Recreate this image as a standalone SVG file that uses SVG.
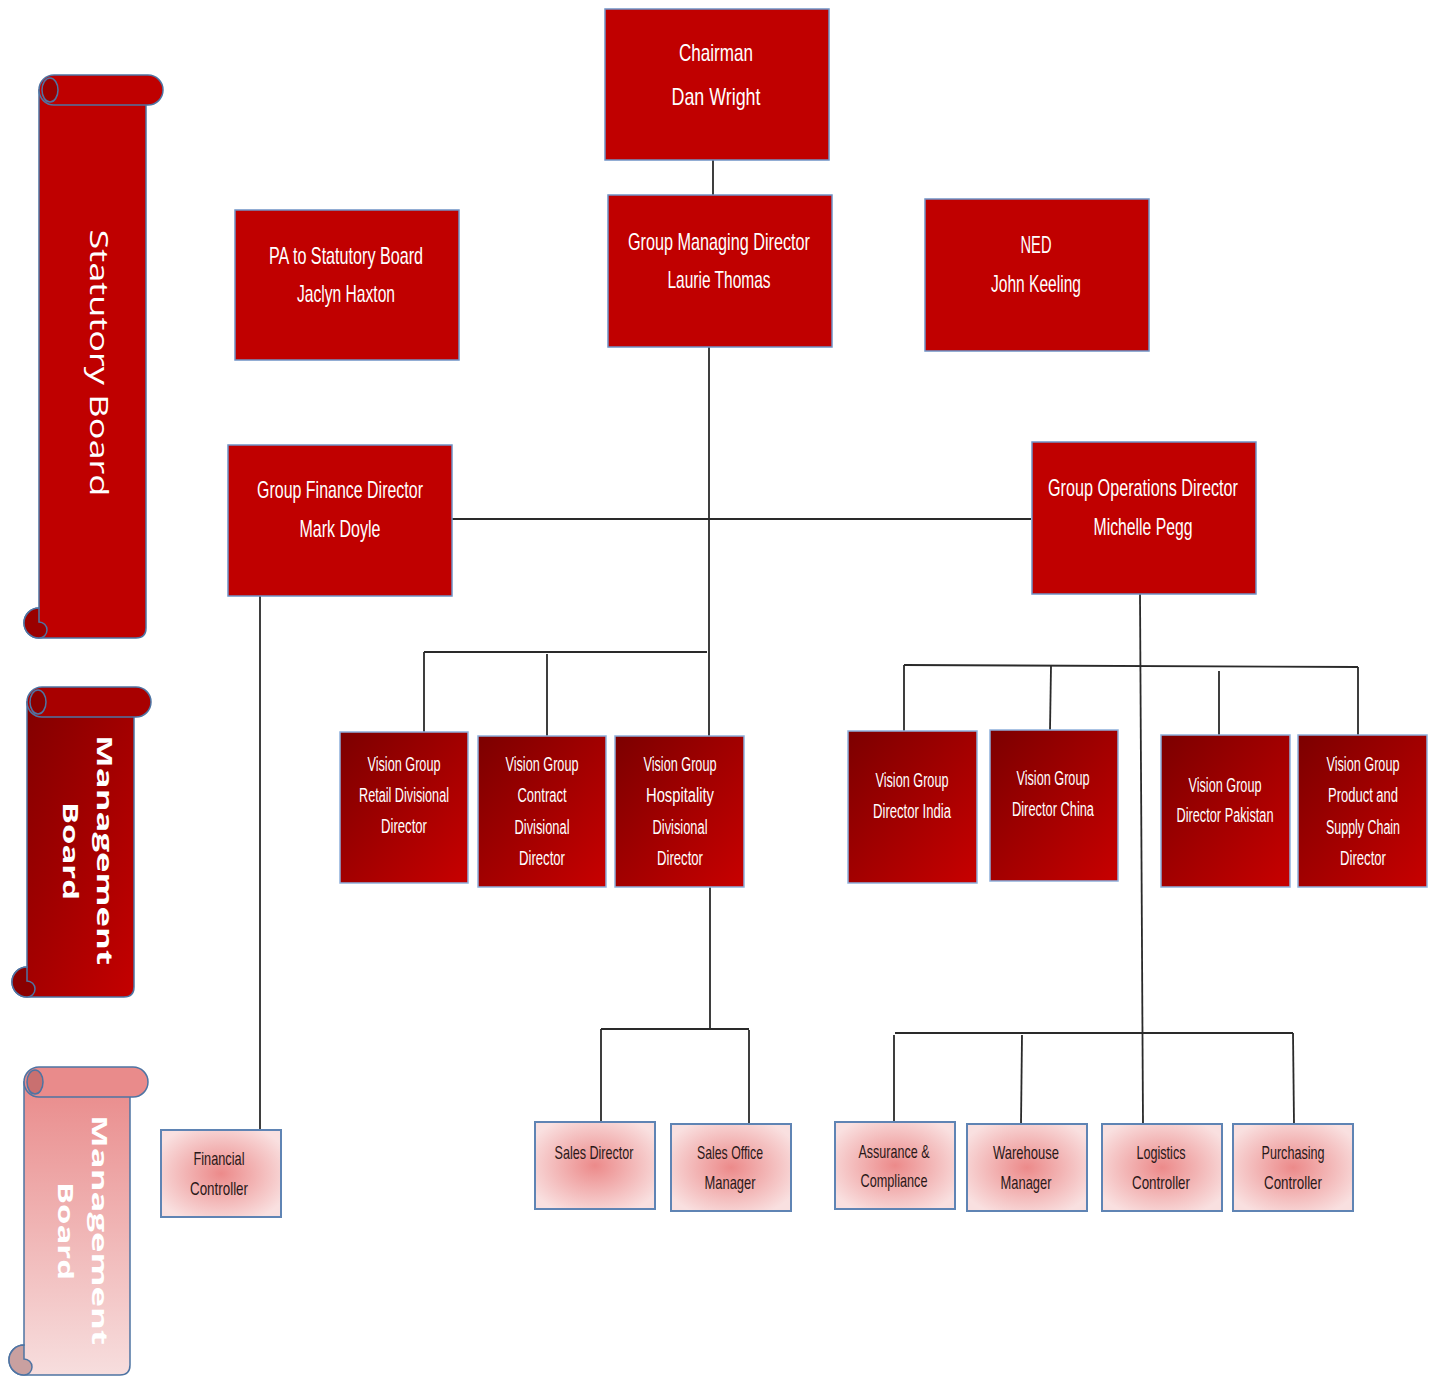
<svg xmlns="http://www.w3.org/2000/svg" width="1436" height="1376" viewBox="0 0 1436 1376">
<defs>
<linearGradient id="gVision" x1="0" y1="0" x2="1" y2="1">
<stop offset="0" stop-color="#7c0000"/>
<stop offset="1" stop-color="#c80000"/>
</linearGradient>
<linearGradient id="gMgmt" x1="0" y1="0" x2="1" y2="1">
<stop offset="0" stop-color="#7e0000"/>
<stop offset="1" stop-color="#c40000"/>
</linearGradient>
<linearGradient id="gPink" x1="0" y1="0" x2="0" y2="1">
<stop offset="0" stop-color="#e98b8b"/>
<stop offset="1" stop-color="#f7dede"/>
</linearGradient>
<radialGradient id="gLow" cx="0.5" cy="0.5" r="0.6">
<stop offset="0" stop-color="#ec8a8a"/>
<stop offset="1" stop-color="#f9e0e0"/>
</radialGradient>
</defs>
<style>
.red{fill:#c00000;stroke:#6f93c6;stroke-width:1.5}
.vis{fill:url(#gVision);stroke:#8eb0dc;stroke-width:1.5}
.low{fill:url(#gLow);stroke:#5f84b4;stroke-width:2}
.t{font-family:"Liberation Sans",Arial,sans-serif;text-anchor:middle;fill:#ffffff}
.big{font-size:24px}
.mid{font-size:20px}
.sm{font-size:19px;fill:#2a1818}
.conn{stroke:#2a2a2a;stroke-width:1.8;fill:none}
.scr{stroke:#4e74a3;stroke-width:1.5}
.st{font-family:"Open Sans","DejaVu Sans",sans-serif;fill:#ffffff;text-anchor:middle}
</style>

<g id="connectors">
<path class="conn" d="M713,160 V195"/>
<path class="conn" d="M709,347 V736"/>
<path class="conn" d="M452,519 H1031"/>
<path class="conn" d="M260,596 V1130"/>
<path class="conn" d="M424,652 H707"/>
<path class="conn" d="M424,652 V732"/>
<path class="conn" d="M547,654 V736"/>
<path class="conn" d="M710,887 V1030"/>
<path class="conn" d="M601,1029 H749"/>
<path class="conn" d="M601,1029 V1122"/>
<path class="conn" d="M749,1030 V1124"/>
<path class="conn" d="M1140,594 L1143,1124"/>
<path class="conn" d="M904,665 L1358,667"/>
<path class="conn" d="M904,665 V731"/>
<path class="conn" d="M1051,666 L1050,730"/>
<path class="conn" d="M1219,671 V735"/>
<path class="conn" d="M1358,667 V735"/>
<path class="conn" d="M895,1033 H1293"/>
<path class="conn" d="M894,1035 V1122"/>
<path class="conn" d="M1022,1035 L1021,1124"/>
<path class="conn" d="M1293,1033 L1294,1124"/>
</g>

<g id="scroll-statutory">
<path class="scr" fill="#bf0000" d="M39,90 H146 V628 Q146,638 136,638 H39 A15,15 0 0 1 39,608 Z"/>
<rect class="scr" fill="#bf0000" x="39" y="75" width="124" height="30" rx="15"/>
<ellipse class="scr" fill="#9a0000" cx="50" cy="90" rx="8" ry="12"/>
<path class="scr" fill="#9a0000" d="M39,608 A15,15 0 0 0 39,638 A8,8 0 0 0 39,622 Z"/>
<text class="st" font-size="25" transform="translate(90,363) rotate(90)" textLength="267" lengthAdjust="spacingAndGlyphs">Statutory Board</text>
</g>

<g id="scroll-management">
<path class="scr" fill="url(#gMgmt)" d="M27,702 H134 V987 Q134,997 124,997 H27 A15,15 0 0 1 27,967 Z"/>
<rect class="scr" fill="#a80000" x="27" y="687" width="124" height="30" rx="15"/>
<ellipse class="scr" fill="#8a0000" cx="38" cy="702" rx="8" ry="12"/>
<path class="scr" fill="#8a0000" d="M27,967 A15,15 0 0 0 27,997 A8,8 0 0 0 27,981 Z"/>
<text class="st" font-size="22" font-weight="bold" transform="translate(97,850) rotate(90)" textLength="230" lengthAdjust="spacingAndGlyphs">Management</text>
<text class="st" font-size="22" font-weight="bold" transform="translate(63,851) rotate(90)" textLength="98" lengthAdjust="spacingAndGlyphs">Board</text>
</g>

<g id="scroll-management-lower">
<path class="scr" fill="url(#gPink)" d="M24,1082 H130 V1365 Q130,1375 120,1375 H24 A15,15 0 0 1 24,1345 Z"/>
<rect class="scr" fill="#e98b8b" x="24" y="1067" width="124" height="30" rx="15"/>
<ellipse class="scr" fill="#c97070" cx="35" cy="1082" rx="8" ry="12"/>
<path class="scr" fill="#c9a0a0" d="M24,1345 A15,15 0 0 0 24,1375 A8,8 0 0 0 24,1359 Z"/>
<text class="st" font-size="22" font-weight="bold" transform="translate(92,1230) rotate(90)" textLength="230" lengthAdjust="spacingAndGlyphs">Management</text>
<text class="st" font-size="22" font-weight="bold" transform="translate(58,1231) rotate(90)" textLength="98" lengthAdjust="spacingAndGlyphs">Board</text>
</g>

<g id="chairman">
<rect class="red" x="605" y="9" width="224" height="151"/>
<text class="t big" x="716" y="60.5" textLength="74" lengthAdjust="spacingAndGlyphs">Chairman</text>
<text class="t big" x="716" y="104.5" textLength="89" lengthAdjust="spacingAndGlyphs">Dan Wright</text>
</g>
<g id="gmd">
<rect class="red" x="608" y="195" width="224" height="152"/>
<text class="t big" x="719" y="250" textLength="182" lengthAdjust="spacingAndGlyphs">Group Managing Director</text>
<text class="t big" x="719" y="288" textLength="103" lengthAdjust="spacingAndGlyphs">Laurie Thomas</text>
</g>
<g id="pa">
<rect class="red" x="235" y="210" width="224" height="150"/>
<text class="t big" x="346" y="264" textLength="154" lengthAdjust="spacingAndGlyphs">PA to Statutory Board</text>
<text class="t big" x="346" y="302" textLength="98" lengthAdjust="spacingAndGlyphs">Jaclyn Haxton</text>
</g>
<g id="ned">
<rect class="red" x="925" y="199" width="224" height="152"/>
<text class="t big" x="1036" y="253" textLength="31" lengthAdjust="spacingAndGlyphs">NED</text>
<text class="t big" x="1036" y="292" textLength="90" lengthAdjust="spacingAndGlyphs">John Keeling</text>
</g>
<g id="gfd">
<rect class="red" x="228" y="445" width="224" height="151"/>
<text class="t big" x="340" y="498" textLength="166" lengthAdjust="spacingAndGlyphs">Group Finance Director</text>
<text class="t big" x="340" y="537" textLength="81" lengthAdjust="spacingAndGlyphs">Mark Doyle</text>
</g>
<g id="god">
<rect class="red" x="1032" y="442" width="224" height="152"/>
<text class="t big" x="1143" y="496" textLength="190" lengthAdjust="spacingAndGlyphs">Group Operations Director</text>
<text class="t big" x="1143" y="535" textLength="99" lengthAdjust="spacingAndGlyphs">Michelle Pegg</text>
</g>

<g id="retail">
<rect class="vis" x="340" y="732" width="128" height="151"/>
<text class="t mid" x="404" y="771" textLength="73" lengthAdjust="spacingAndGlyphs">Vision Group</text>
<text class="t mid" x="404" y="802" textLength="90" lengthAdjust="spacingAndGlyphs">Retail Divisional</text>
<text class="t mid" x="404" y="833" textLength="46" lengthAdjust="spacingAndGlyphs">Director</text>
</g>
<g id="contract">
<rect class="vis" x="478" y="736" width="128" height="151"/>
<text class="t mid" x="542" y="771" textLength="73" lengthAdjust="spacingAndGlyphs">Vision Group</text>
<text class="t mid" x="542" y="802" textLength="49" lengthAdjust="spacingAndGlyphs">Contract</text>
<text class="t mid" x="542" y="834" textLength="55" lengthAdjust="spacingAndGlyphs">Divisional</text>
<text class="t mid" x="542" y="865" textLength="46" lengthAdjust="spacingAndGlyphs">Director</text>
</g>
<g id="hospitality">
<rect class="vis" x="615" y="736" width="129" height="151"/>
<text class="t mid" x="680" y="771" textLength="73" lengthAdjust="spacingAndGlyphs">Vision Group</text>
<text class="t mid" x="680" y="802" textLength="68" lengthAdjust="spacingAndGlyphs">Hospitality</text>
<text class="t mid" x="680" y="834" textLength="55" lengthAdjust="spacingAndGlyphs">Divisional</text>
<text class="t mid" x="680" y="865" textLength="46" lengthAdjust="spacingAndGlyphs">Director</text>
</g>
<g id="india">
<rect class="vis" x="848" y="731" width="129" height="152"/>
<text class="t mid" x="912" y="787" textLength="73" lengthAdjust="spacingAndGlyphs">Vision Group</text>
<text class="t mid" x="912" y="818" textLength="78" lengthAdjust="spacingAndGlyphs">Director India</text>
</g>
<g id="china">
<rect class="vis" x="990" y="730" width="128" height="151"/>
<text class="t mid" x="1053" y="785" textLength="73" lengthAdjust="spacingAndGlyphs">Vision Group</text>
<text class="t mid" x="1053" y="816" textLength="82" lengthAdjust="spacingAndGlyphs">Director China</text>
</g>
<g id="pakistan">
<rect class="vis" x="1161" y="735" width="129" height="152"/>
<text class="t mid" x="1225" y="792" textLength="73" lengthAdjust="spacingAndGlyphs">Vision Group</text>
<text class="t mid" x="1225" y="822" textLength="97" lengthAdjust="spacingAndGlyphs">Director Pakistan</text>
</g>
<g id="product">
<rect class="vis" x="1298" y="735" width="129" height="152"/>
<text class="t mid" x="1363" y="771" textLength="73" lengthAdjust="spacingAndGlyphs">Vision Group</text>
<text class="t mid" x="1363" y="802" textLength="70" lengthAdjust="spacingAndGlyphs">Product and</text>
<text class="t mid" x="1363" y="834" textLength="74" lengthAdjust="spacingAndGlyphs">Supply Chain</text>
<text class="t mid" x="1363" y="865" textLength="46" lengthAdjust="spacingAndGlyphs">Director</text>
</g>

<g id="financial-controller">
<rect class="low" x="161" y="1130" width="120" height="87"/>
<text class="t sm" x="219" y="1165" textLength="51" lengthAdjust="spacingAndGlyphs">Financial</text>
<text class="t sm" x="219" y="1195" textLength="58" lengthAdjust="spacingAndGlyphs">Controller</text>
</g>
<g id="sales-director">
<rect class="low" x="535" y="1122" width="120" height="87"/>
<text class="t sm" x="594" y="1159" textLength="79" lengthAdjust="spacingAndGlyphs">Sales Director</text>
</g>
<g id="sales-office-manager">
<rect class="low" x="671" y="1124" width="120" height="87"/>
<text class="t sm" x="730" y="1159" textLength="66" lengthAdjust="spacingAndGlyphs">Sales Office</text>
<text class="t sm" x="730" y="1189" textLength="51" lengthAdjust="spacingAndGlyphs">Manager</text>
</g>
<g id="assurance">
<rect class="low" x="835" y="1122" width="120" height="87"/>
<text class="t sm" x="894" y="1158" textLength="71" lengthAdjust="spacingAndGlyphs">Assurance &amp;</text>
<text class="t sm" x="894" y="1187" textLength="67" lengthAdjust="spacingAndGlyphs">Compliance</text>
</g>
<g id="warehouse">
<rect class="low" x="967" y="1124" width="120" height="87"/>
<text class="t sm" x="1026" y="1159" textLength="66" lengthAdjust="spacingAndGlyphs">Warehouse</text>
<text class="t sm" x="1026" y="1189" textLength="51" lengthAdjust="spacingAndGlyphs">Manager</text>
</g>
<g id="logistics">
<rect class="low" x="1102" y="1124" width="120" height="87"/>
<text class="t sm" x="1161" y="1159" textLength="49" lengthAdjust="spacingAndGlyphs">Logistics</text>
<text class="t sm" x="1161" y="1189" textLength="58" lengthAdjust="spacingAndGlyphs">Controller</text>
</g>
<g id="purchasing">
<rect class="low" x="1233" y="1124" width="120" height="87"/>
<text class="t sm" x="1293" y="1159" textLength="63" lengthAdjust="spacingAndGlyphs">Purchasing</text>
<text class="t sm" x="1293" y="1189" textLength="58" lengthAdjust="spacingAndGlyphs">Controller</text>
</g>
</svg>
